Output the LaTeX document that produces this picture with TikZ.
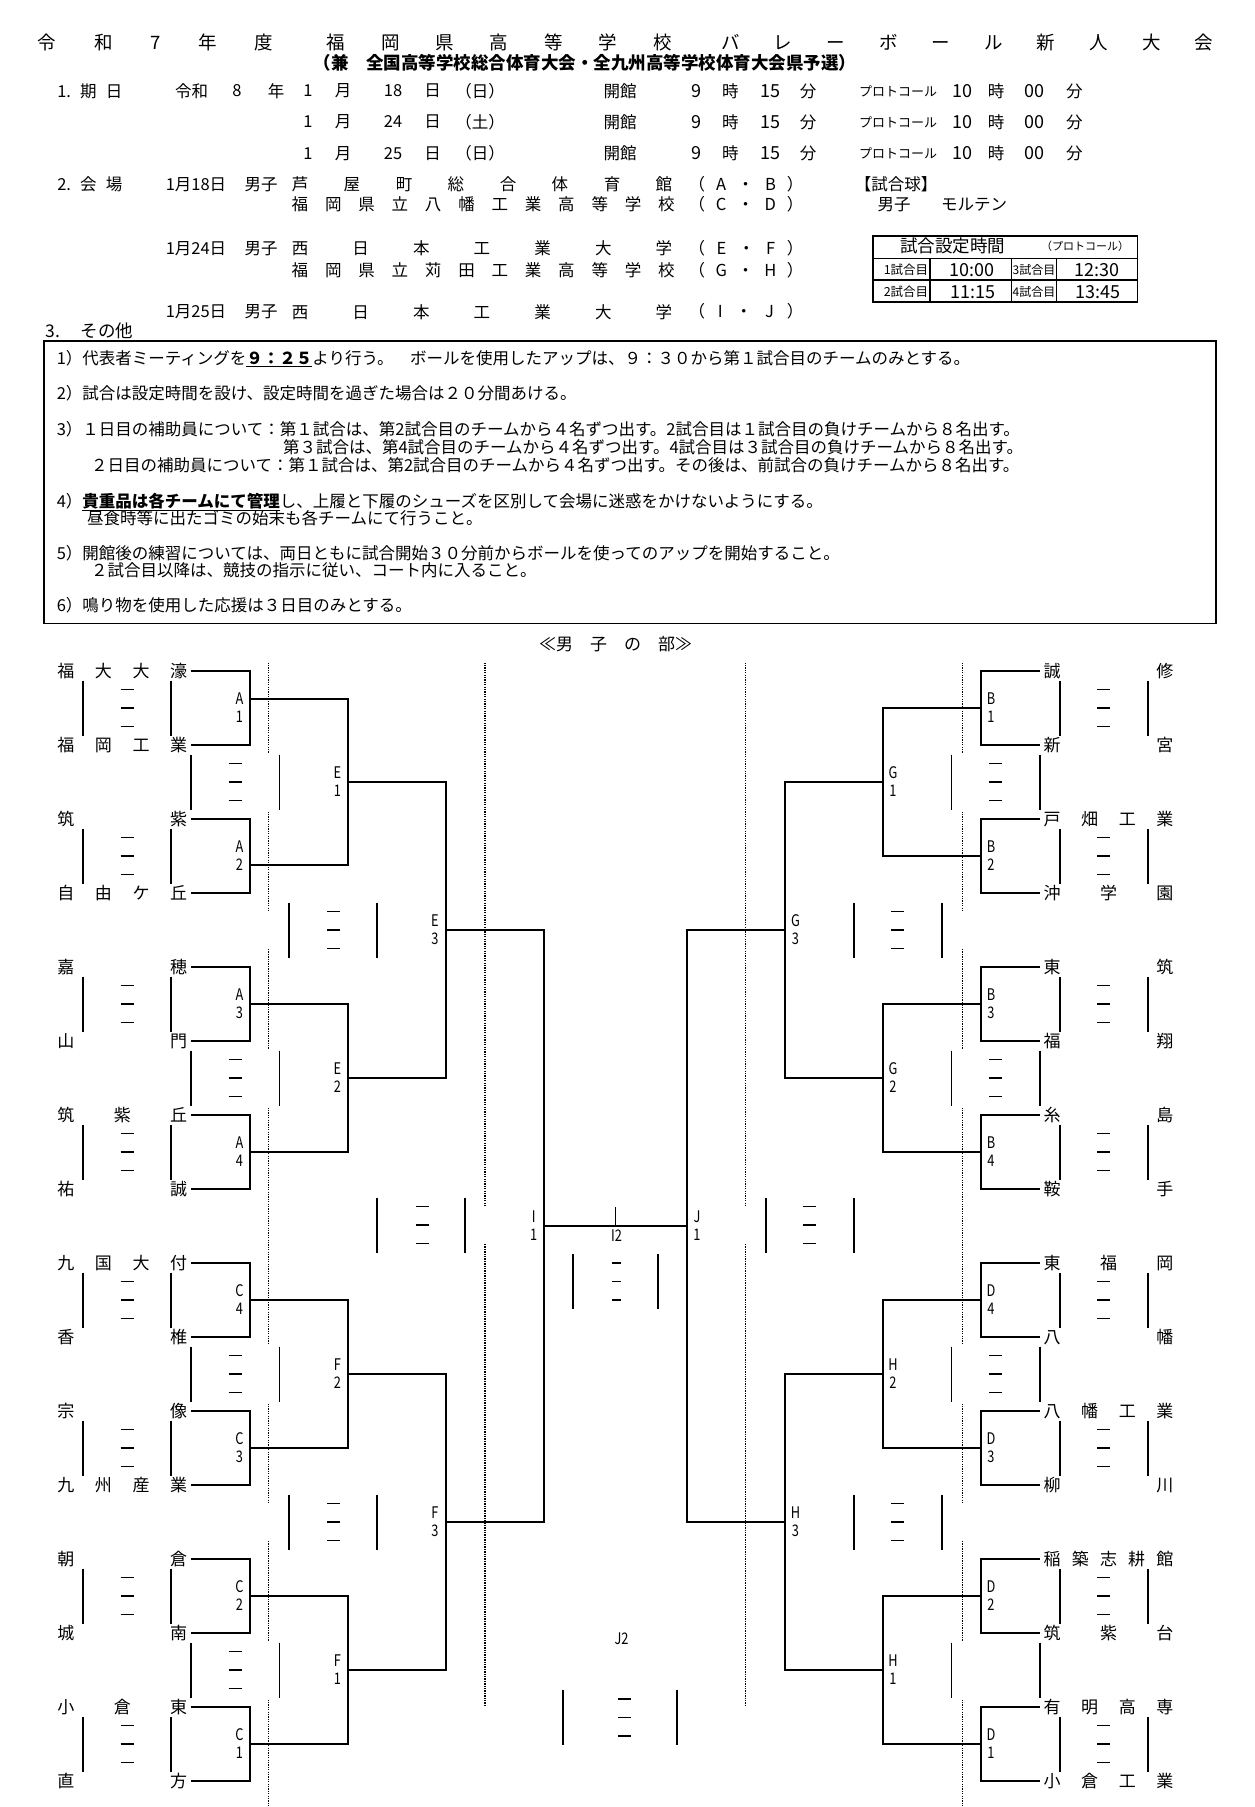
\documentclass[tikz,border=0pt]{standalone}
\usepackage{fontspec}
\usepackage{graphicx}
\setmainfont{Noto Sans CJK JP}
\newcommand{\jfs}[1]{\fontsize{#1}{#1}\selectfont}
\newcommand{\nrw}[1]{\scalebox{0.8}[1]{#1}}
\newcommand{\scbox}[5]{%
  \draw[sb] (#1,#3-27.5) -- (#1,#3+27.5);
  \draw[sb] (#2,#3-27.5) -- (#2,#3+27.5);
  \draw[dsh] ({#4-#5},{#3-18.5}) -- ({#4+#5},{#3-18.5});
  \draw[dsh] ({#4-#5},{#3}) -- ({#4+#5},{#3});
  \draw[dsh] ({#4-#5},{#3+18.5}) -- ({#4+#5},{#3+18.5});
}
\newcommand{\scbars}[3]{%
  \draw[sb] (#1,#3-27.5) -- (#1,#3+27.5);
  \draw[sb] (#2,#3-27.5) -- (#2,#3+27.5);
}
\tikzset{
  br/.style={line width=1.4pt},
  sb/.style={line width=1.4pt},
  dsh/.style={line width=1.1pt},
  dl/.style={line width=1.2pt, dash pattern=on 1.3pt off 1.1pt},
  team/.style={font=\jfs{17}},
  lab/.style={font=\fontsize{16}{18}\selectfont, align=center},
  hd/.style={font=\jfs{16.5}},
  dg/.style={font=\jfs{18}},
  tx/.style={font=\jfs{16.5}, anchor=base west},
  tt/.style={font=\jfs{18.5}},
}
\begin{document}
\begin{tikzpicture}[x=1pt,y=-1pt,every node/.style={inner sep=0pt,outer sep=0pt}]
\useasboundingbox (0,0) rectangle (1255,1807);
\fill[white] (0,0) rectangle (1255,1807);

% ---------- title ----------
\node[tt] (ti1) at (155.5,42.5) {\makebox[235.5pt][s]{令\hfill 和\hfill 7\hfill 年\hfill 度}};
\node[tt] (ti2) at (499.2,42.5) {\makebox[345pt][s]{福\hfill 岡\hfill 県\hfill 高\hfill 等\hfill 学\hfill 校}};
\node[tt] (ti3) at (967.2,42.5) {\makebox[492pt][s]{バ\hfill レ\hfill ー\hfill ボ\hfill ー\hfill ル\hfill 新\hfill 人\hfill 大\hfill 会}};
\node[font=\jfs{17.5}\bfseries] (sub) at (585,63.3) {（兼　全国高等学校総合体育大会・全九州高等学校体育大会県予選）};

% ---------- 1. 期日 ----------
\node[hd] (k1) at (89.8,91) {\makebox[65pt][s]{1.\hfill 期\hfill 日}};
\node[hd] (k2) at (191.7,91) {令和};
\node[hd] (k3) at (237,91) {8};
\node[hd] (k4) at (276,91) {年};
\foreach \i/\yy/\dd/\ww in {1/91/18/日,2/122/24/土,3/153.3/25/日}{
  \node[hd] (m\i) at (308,\yy) {1};
  \node[hd] (mo\i) at (343,\yy) {月};
  \node[hd] (d\i) at (393,\yy) {\dd};
  \node[hd] (ni\i) at (432.5,\yy) {日};
  \node[hd] (w\i) at (480,\yy) {（\ww）};
  \node[hd] (kk\i) at (620,\yy) {開館};
  \node[dg] (h\i) at (696,\yy) {9};
  \node[hd] (hj\i) at (730.4,\yy) {時};
  \node[dg] (mi\i) at (770.4,\yy) {15};
  \node[hd] (hf\i) at (808,\yy) {分};
  \node[font=\jfs{13}] (pc\i) at (898,\yy) {プロトコール};
  \node[dg] (ph\i) at (962.4,\yy) {10};
  \node[hd] (phj\i) at (996,\yy) {時};
  \node[dg] (pm\i) at (1034.4,\yy) {00};
  \node[hd] (pf\i) at (1074.4,\yy) {分};
}

% ---------- 2. 会場 ----------
\node[hd] (v0) at (89.8,184.3) {\makebox[65pt][s]{2.\hfill 会\hfill 場}};
\node[hd] (v1d) at (196,184.3) {1月18日};
\node[hd] (v1s) at (261,184.3) {男子};
\node[hd] (v1a) at (482,184.3) {\makebox[380.5pt][s]{芦\hfill 屋\hfill 町\hfill 総\hfill 合\hfill 体\hfill 育\hfill 館}};
\node[hd] (v1p) at (746,184.3) {\makebox[115pt][s]{（\hfill A\hfill ・\hfill B\hfill ）}};
\node[hd] (ball) at (896,184.3) {【試合球】};
\node[hd] (v2a) at (483.2,204.3) {\makebox[383pt][s]{福\hfill 岡\hfill 県\hfill 立\hfill 八\hfill 幡\hfill 工\hfill 業\hfill 高\hfill 等\hfill 学\hfill 校}};
\node[hd] (v2p) at (746,204.3) {\makebox[115pt][s]{（\hfill C\hfill ・\hfill D\hfill ）}};
\node[hd] (bm) at (894,204.3) {男子};
\node[hd] (bn) at (974,204.3) {モルテン};
\node[hd] (v3d) at (196,248.3) {1月24日};
\node[hd] (v3s) at (261,248.3) {男子};
\node[hd] (v3a) at (482,248.3) {\makebox[380.5pt][s]{西\hfill 日\hfill 本\hfill 工\hfill 業\hfill 大\hfill 学}};
\node[hd] (v3p) at (746,248.3) {\makebox[115pt][s]{（\hfill E\hfill ・\hfill F\hfill ）}};
\node[hd] (v4a) at (483.2,270) {\makebox[383pt][s]{福\hfill 岡\hfill 県\hfill 立\hfill 苅\hfill 田\hfill 工\hfill 業\hfill 高\hfill 等\hfill 学\hfill 校}};
\node[hd] (v4p) at (746,270) {\makebox[115pt][s]{（\hfill G\hfill ・\hfill H\hfill ）}};
\node[hd] (v5d) at (196,311.7) {1月25日};
\node[hd] (v5s) at (261,311.7) {男子};
\node[hd] (v5a) at (482,311.7) {\makebox[380.5pt][s]{西\hfill 日\hfill 本\hfill 工\hfill 業\hfill 大\hfill 学}};
\node[hd] (v5p) at (746,311.7) {\makebox[115pt][s]{（\hfill I\hfill ・\hfill J\hfill ）}};
\node[font=\jfs{17.5}] (sono) at (89.5,331) {\makebox[88pt][s]{3.\hfill その他}};

% ---------- time table ----------
\draw[line width=1.7pt] (872.7,236) rectangle (1137.5,301.8);
\draw[line width=1.3pt] (872.7,258.3) -- (1137.5,258.3) (872.7,280) -- (1137.5,280);
\draw[line width=1.3pt] (930,258.3) -- (930,301.8) (1011.7,258.3) -- (1011.7,301.8) (1056.7,258.3) -- (1056.7,301.8);
\node[font=\jfs{17.5}] (tbh) at (952.5,246) {試合設定時間};
\node[font=\jfs{11}] (tbp) at (1085,246) {（プロトコール）};
\node[font=\jfs{12.5}] (tb1) at (906,270) {1試合目};
\node[dg] (tb1t) at (971.7,270) {10:00};
\node[font=\jfs{12}] (tb3) at (1034,270) {3試合目};
\node[dg] (tb3t) at (1096.7,270) {12:30};
\node[font=\jfs{12.5}] (tb2) at (906,291.7) {2試合目};
\node[dg] (tb2t) at (972.5,291.7) {11:15};
\node[font=\jfs{12}] (tb4) at (1034,291.7) {4試合目};
\node[dg] (tb4t) at (1097.5,291.7) {13:45};

% ---------- notes box ----------
\draw[line width=1.6pt] (44,340.7) rectangle (1216,623.3);
\node[tx] (n1) at (56.8,364.6) {1）代表者ミーティングを\underline{\textbf{９：２５}}より行う。　ボールを使用したアップは、９：３０から第１試合目のチームのみとする。};
\node[tx] (n2) at (56.8,399.6) {2）試合は設定時間を設け、設定時間を過ぎた場合は２０分間あける。};
\node[tx] (n3) at (56.8,435.6) {3）１日目の補助員について：第１試合は、第2試合目のチームから４名ずつ出す。2試合目は１試合目の負けチームから８名出す。};
\node[tx] (n3b) at (283,453) {第３試合は、第4試合目のチームから４名ずつ出す。4試合目は３試合目の負けチームから８名出す。};
\node[tx] (n3c) at (91,471.3) {２日目の補助員について：第１試合は、第2試合目のチームから４名ずつ出す。その後は、前試合の負けチームから８名出す。};
\node[tx] (n4) at (56.8,507) {4）\underline{\textbf{貴重品は各チームにて管理}}し、上履と下履のシューズを区別して会場に迷惑をかけないようにする。};
\node[tx] (n4b) at (87,524) {昼食時等に出たゴミの始末も各チームにて行うこと。};
\node[tx] (n5) at (56.8,559.6) {5）開館後の練習については、両日ともに試合開始３０分前からボールを使ってのアップを開始すること。};
\node[tx] (n5b) at (91,576.3) {２試合目以降は、競技の指示に従い、コート内に入ること。};
\node[tx] (n6) at (56.8,611.3) {6）鳴り物を使用した応援は３日目のみとする。};

\node[font=\jfs{17}] (sec) at (615.5,644) {≪男　子　の　部≫};

% ---------- dotted guides ----------
\foreach \xx in {268.4,962.4}{
  \foreach \a/\b in {662.5/752.5,811.5/911,949/1048.5,1107.5/1344.5,1403.5/1503,1541/1640.5,1699.5/1807}
    \draw[dl] (\xx,\a) -- (\xx,\b);
}
\foreach \xx in {485,745.8}{
  \draw[dl] (\xx,662.5) -- (\xx,1206);
  \draw[dl] (\xx,1244) -- (\xx,1707);
}

% ---------- score boxes ----------
\foreach \p in {0,...,7}{
  \scbox{83}{171}{708+148*\p}{127}{6.5}
  \scbox{1059.8}{1147.8}{708+148*\p}{1103.8}{6.5}
}
\foreach \m in {0,...,3}{
  \scbox{190.8}{279.2}{782+296*\m}{235}{6.5}
}
\foreach \m in {0,...,2}{
  \scbox{951.6}{1040}{782+296*\m}{995.8}{6.5}
}
\scbars{951.6}{1040}{1670}
\scbox{289}{377}{930}{333.5}{6.5}
\scbox{289}{377}{1522}{333.5}{6.5}
\scbox{853.8}{941.8}{930}{897.3}{6.5}
\scbox{853.8}{941.8}{1522}{897.3}{6.5}
\scbox{377}{465}{1225}{422}{6.5}
\scbox{765.8}{853.8}{1225}{809}{6.5}
\scbox{573}{658}{1281.5}{616}{4.5}
\scbox{563}{677}{1717.5}{624.6}{6.5}

% ---------- teams ----------
\foreach \k/\nm in {0/{福\hfill 大\hfill 大\hfill 濠},1/{福\hfill 岡\hfill 工\hfill 業},2/{筑\hfill 紫},3/{自\hfill 由\hfill ケ\hfill 丘},4/{嘉\hfill 穂},5/{山\hfill 門},6/{筑\hfill 紫\hfill 丘},7/{祐\hfill 誠},8/{九\hfill 国\hfill 大\hfill 付},9/{香\hfill 椎},10/{宗\hfill 像},11/{九\hfill 州\hfill 産\hfill 業},12/{朝\hfill 倉},13/{城\hfill 南},14/{小\hfill 倉\hfill 東},15/{直\hfill 方}}{
  \node[team] (tL\k) at (122.3,{671+74*\k}) {\makebox[129.8pt][s]{\nm}};
  \coordinate (sL\k) at ([xshift=3.6pt]tL\k.east);
}
\foreach \k/\nm in {0/{誠\hfill 修},1/{新\hfill 宮},2/{戸\hfill 畑\hfill 工\hfill 業},3/{沖\hfill 学\hfill 園},4/{東\hfill 筑},5/{福\hfill 翔},6/{糸\hfill 島},7/{鞍\hfill 手},8/{東\hfill 福\hfill 岡},9/{八\hfill 幡},10/{八\hfill 幡\hfill 工\hfill 業},11/{柳\hfill 川},12/{稲\hfill 築\hfill 志\hfill 耕\hfill 館},13/{筑\hfill 紫\hfill 台},14/{有\hfill 明\hfill 高\hfill 専},15/{小\hfill 倉\hfill 工\hfill 業}}{
  \node[team] (tR\k) at (1108.5,{671+74*\k}) {\makebox[129.8pt][s]{\nm}};
  \coordinate (sR\k) at ([xshift=-3.6pt]tR\k.west);
}

% ---------- match points ----------
\coordinate (A1) at (250,699);  \coordinate (A2) at (250,865);
\coordinate (A3) at (250,1004); \coordinate (A4) at (250,1152);
\coordinate (C4) at (250,1300); \coordinate (C3) at (250,1448);
\coordinate (C2) at (250,1596); \coordinate (C1) at (250,1744);
\coordinate (E1) at (348,782);  \coordinate (E2) at (348,1078);
\coordinate (F2) at (348,1374); \coordinate (F1) at (348,1670);
\coordinate (E3) at (446,930);  \coordinate (F3) at (446,1522);
\coordinate (I1) at (544,1226);
\coordinate (B1) at (981,708);  \coordinate (B2) at (981,856);
\coordinate (B3) at (981,1004); \coordinate (B4) at (981,1152);
\coordinate (D4) at (981,1300); \coordinate (D3) at (981,1448);
\coordinate (D2) at (981,1596); \coordinate (D1) at (981,1744);
\coordinate (G1) at (883,782);  \coordinate (G2) at (883,1078);
\coordinate (H2) at (883,1374); \coordinate (H1) at (883,1670);
\coordinate (G3) at (785,930);  \coordinate (H3) at (785,1522);
\coordinate (J1) at (687,1226);
\coordinate (I2) at (615.5,1207);

% ---------- bracket ----------
\draw[br] (sL0) -| (A1) |- (sL1);  \draw[br] (sL2) -| (A2) |- (sL3);
\draw[br] (sL4) -| (A3) |- (sL5);  \draw[br] (sL6) -| (A4) |- (sL7);
\draw[br] (sL8) -| (C4) |- (sL9);  \draw[br] (sL10) -| (C3) |- (sL11);
\draw[br] (sL12) -| (C2) |- (sL13); \draw[br] (sL14) -| (C1) |- (sL15);
\draw[br] (A1) -| (E1) |- (A2);  \draw[br] (A3) -| (E2) |- (A4);
\draw[br] (C4) -| (F2) |- (C3);  \draw[br] (C2) -| (F1) |- (C1);
\draw[br] (E1) -| (E3) |- (E2);  \draw[br] (F2) -| (F3) |- (F1);
\draw[br] (E3) -| (I1) |- (F3);
\draw[br] (sR0) -| (B1) |- (sR1);  \draw[br] (sR2) -| (B2) |- (sR3);
\draw[br] (sR4) -| (B3) |- (sR5);  \draw[br] (sR6) -| (B4) |- (sR7);
\draw[br] (sR8) -| (D4) |- (sR9);  \draw[br] (sR10) -| (D3) |- (sR11);
\draw[br] (sR12) -| (D2) |- (sR13); \draw[br] (sR14) -| (D1) |- (sR15);
\draw[br] (B1) -| (G1) |- (B2);  \draw[br] (B3) -| (G2) |- (B4);
\draw[br] (D4) -| (H2) |- (D3);  \draw[br] (D2) -| (H1) |- (D1);
\draw[br] (G1) -| (G3) |- (G2);  \draw[br] (H2) -| (H3) |- (H1);
\draw[br] (G3) -| (J1) |- (H3);
\draw[br] (I1) -- (J1);
\draw[br] (I2) -- (I2 |- I1);

% ---------- match labels ----------
\foreach \n/\a/\b/\yy in {A1/A/1/708,A2/A/2/856,A3/A/3/1004,A4/A/4/1152,C4/C/4/1300,C3/C/3/1448,C2/C/2/1596,C1/C/1/1744}{
  \node[lab] (l\n) at (239.5,\yy) {\nrw{\a}\\\nrw{\b}};
}
\foreach \n/\a/\b/\yy in {E1/E/1/782,E2/E/2/1078,F2/F/2/1374,F1/F/1/1670}{
  \node[lab] (l\n) at (337.5,\yy) {\nrw{\a}\\\nrw{\b}};
}
\foreach \n/\a/\b/\yy in {E3/E/3/930,F3/F/3/1522}{
  \node[lab] (l\n) at (435,\yy) {\nrw{\a}\\\nrw{\b}};
}
\node[lab] (lI1) at (533.7,1226) {\nrw{I}\\\nrw{1}};
\foreach \n/\a/\b/\yy in {B1/B/1/708,B2/B/2/856,B3/B/3/1004,B4/B/4/1152,D4/D/4/1300,D3/D/3/1448,D2/D/2/1596,D1/D/1/1744}{
  \node[lab] (l\n) at (991,\yy) {\nrw{\a}\\\nrw{\b}};
}
\foreach \n/\a/\b/\yy in {G1/G/1/782,G2/G/2/1078,H2/H/2/1374,H1/H/1/1670}{
  \node[lab] (l\n) at (893,\yy) {\nrw{\a}\\\nrw{\b}};
}
\foreach \n/\a/\b/\yy in {G3/G/3/930,H3/H/3/1522}{
  \node[lab] (l\n) at (795.5,\yy) {\nrw{\a}\\\nrw{\b}};
}
\node[lab] (lJ1) at (697,1226) {\nrw{J}\\\nrw{1}};
\node[lab] (lI2) at (616.5,1236) {\nrw{I2}};
\node[lab] (lJ2) at (621.5,1638.5) {\nrw{J2}};
\end{tikzpicture}
\end{document}
